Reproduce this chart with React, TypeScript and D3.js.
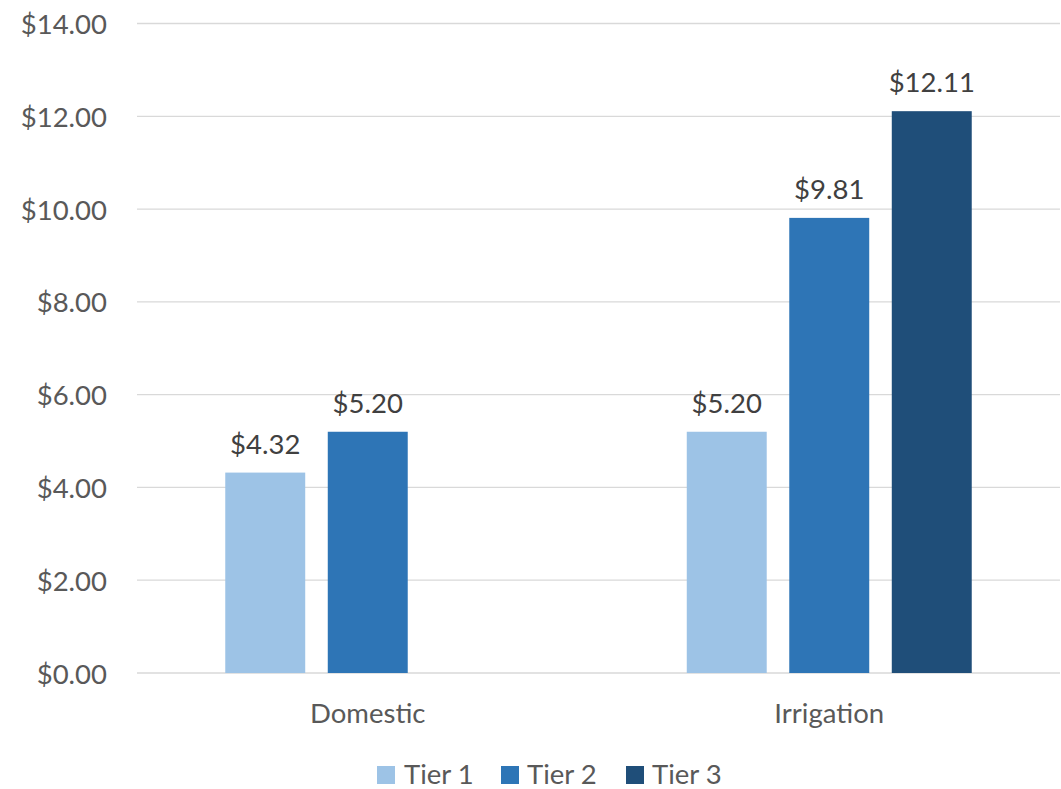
import React, { useEffect } from "react";
import * as d3 from "d3";

const categories = ["Domestic", "Irrigation"];
const tiers = ["Tier 1", "Tier 2", "Tier 3"];
const tier1Values: (number | null)[] = [4.32, 5.2];
const tier2Values: (number | null)[] = [5.2, 9.81];
const tier3Values: (number | null)[] = [null, 12.11];
const yTicks = [0, 2, 4, 6, 8, 10, 12, 14];
const colors = ["#9DC3E6", "#2E75B6", "#1F4E79"];

const W = 1061;
const H = 789;
const FONT = "Lato, 'Open Sans', sans-serif";

export default function App() {
  useEffect(() => {
    document.body.style.margin = "0";
  }, []);

  const series = [tier1Values, tier2Values, tier3Values];
  const y = d3.scaleLinear().domain([0, 14]).range([673, 23.5]);
  const x0 = d3.scaleBand().domain(categories).range([137, 1060]).padding(0);
  const x1 = d3
    .scaleBand()
    .domain(tiers)
    .range([0, x0.bandwidth()])
    .paddingInner(0.22)
    .paddingOuter(0.861);
  const fmt = (v: number) => "$" + d3.format(".2f")(v);

  const legendItems = [
    { label: tiers[0], sq: 377, tx: 404 },
    { label: tiers[1], sq: 501, tx: 527 },
    { label: tiers[2], sq: 626, tx: 652 },
  ];

  return (
    <svg width={W} height={H} style={{ display: "block", background: "#fff" }} fontFamily={FONT}>
      {yTicks.map((t) => (
        <g key={t}>
          <line x1={137} x2={1060} y1={y(t)} y2={y(t)} stroke="#D9D9D9" strokeWidth={1.3} />
          <text
            x={107}
            y={y(t)}
            textAnchor="end"
            dominantBaseline="central"
            fontSize={27.5}
            fill="#595959"
          >
            {fmt(t)}
          </text>
        </g>
      ))}
      {categories.map((c, ci) => (
        <g key={c}>
          {series.map((s, si) => {
            const v = s[ci];
            if (v == null) return null;
            const bx = (x0(c) as number) + (x1(tiers[si]) as number);
            return (
              <g key={si}>
                <rect
                  x={bx}
                  y={y(v)}
                  width={x1.bandwidth()}
                  height={y(0) - y(v)}
                  fill={colors[si]}
                />
                <text
                  x={bx + x1.bandwidth() / 2}
                  y={y(v) - 19}
                  textAnchor="middle"
                  fontSize={27.5}
                  fill="#404040"
                >
                  {fmt(v)}
                </text>
              </g>
            );
          })}
          <text
            x={(x0(c) as number) + x0.bandwidth() / 2}
            y={723}
            textAnchor="middle"
            fontSize={27.5}
            fill="#595959"
          >
            {c}
          </text>
        </g>
      ))}
      {legendItems.map((it, i) => (
        <g key={it.label}>
          <rect x={it.sq} y={766} width={18} height={18} fill={colors[i]} />
          <text x={it.tx} y={784} fontSize={27.5} fill="#595959">
            {it.label}
          </text>
        </g>
      ))}
    </svg>
  );
}
